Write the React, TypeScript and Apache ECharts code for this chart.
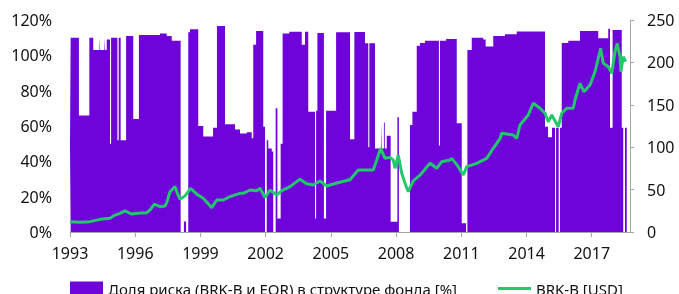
import React, { useEffect, useRef } from "react";
import * as echarts from "echarts";

const riskName = "Доля риска (BRK-B и EQR) в структуре фонда [%]";
const priceName = "BRK-B [USD]";

const yearTicks = [1993, 1996, 1999, 2002, 2005, 2008, 2011, 2014, 2017];

const riskYears = [1993.00,1993.03,1993.41,1993.89,1994.07,1994.35,1994.38,1994.58,1994.61,1994.69,1994.84,1994.89,1995.18,1995.24,1995.33,1995.58,1995.91,1996.17,1997.14,1997.45,1997.68,1998.09,1998.24,1998.34,1998.44,1998.52,1998.90,1999.13,1999.58,1999.76,2000.13,2000.59,2000.82,2001.13,2001.36,2001.43,2001.56,2001.89,2001.97,2002.05,2002.12,2002.28,2002.35,2002.46,2002.54,2002.69,2002.78,2003.09,2003.66,2003.81,2003.96,2004.27,2004.32,2004.38,2004.68,2004.78,2005.24,2005.88,2006.08,2006.57,2006.72,2006.77,2007.03,2007.31,2007.34,2007.44,2007.48,2007.57,2007.75,2008.06,2008.13,2008.64,2008.75,2008.95,2009.10,2009.33,2009.97,2010.02,2010.30,2010.79,2011.02,2011.22,2011.28,2011.48,2012.01,2012.12,2012.47,2013.01,2013.55,2014.85,2014.99,2015.17,2015.31,2015.36,2015.48,2015.54,2015.62,2015.92,2016.46,2017.30,2017.76,2017.84,2017.96,2018.38,2018.45,2018.53,2018.61];
const riskShare = [49,110,66,110,103,110,103,110,103,109,50,110,52,110,52,111,64,111.5,112.3,111,108.3,0,6,0,113,114.7,60,54,59,116.6,61,58,55.8,56.5,53,106,113.8,59.6,0,52,47.3,45.5,0,70,7.7,50,112.4,113.4,106,113.4,68,7.7,68.6,112.7,7.7,68.6,113,52.5,113.2,106.8,48,106.8,47.3,62,47.3,62,47.3,54.5,5.8,65,0,60.5,68,105.4,107,108.3,49,108.3,109.2,61.5,5,0,103,110,109,105,111,112,113.5,59.6,53.6,59,0,59,0,59,107,108.3,113.8,109.6,115,59,114.3,59,0,59,59];

const priceYears = [1993.00,1993.46,1993.92,1994.38,1994.84,1994.99,1995.30,1995.53,1995.84,1996.22,1996.53,1996.68,1996.88,1997.14,1997.37,1997.45,1997.60,1997.83,1997.94,1998.06,1998.29,1998.55,1998.83,1999.13,1999.52,1999.75,2000.05,2000.36,2000.82,2000.97,2001.28,2001.59,2001.74,2001.97,2002.20,2002.51,2002.74,2003.12,2003.58,2003.89,2004.19,2004.50,2004.81,2005.27,2005.88,2006.26,2006.65,2006.95,2007.11,2007.29,2007.49,2007.72,2007.87,2007.95,2008.10,2008.26,2008.41,2008.56,2008.79,2009.10,2009.56,2009.87,2010.10,2010.48,2010.56,2010.86,2011.09,2011.25,2011.71,2011.86,2012.17,2012.47,2012.78,2012.86,2013.39,2013.55,2013.70,2014.08,2014.31,2014.62,2014.85,2015.00,2015.16,2015.46,2015.62,2015.85,2016.15,2016.23,2016.46,2016.64,2016.92,2017.15,2017.30,2017.41,2017.53,2017.76,2017.92,2018.07,2018.17,2018.30,2018.34,2018.45,2018.56];
const priceUsd = [12.2,11.5,12.2,14.9,16.1,18.9,22,24.8,21.2,22.5,22.8,25.9,33,29.9,30.7,34.6,47.5,53.5,45.6,38.5,42.6,51.5,44.6,39.7,28.7,37.7,37.7,41.7,45.6,45.6,49.5,48.7,51.5,40.7,49.5,43.6,48.7,53.5,62.3,57,55.4,60.1,54.2,57.8,61.7,73.1,73.1,73.1,84.9,98.7,86.9,88,84.9,75.1,90.8,69.2,57.4,47.5,60.3,67,81,75.1,82.9,84.9,86.9,77,67.2,77,81,82.9,86.9,98.7,110,116.4,114.4,110.5,126.2,138,151.8,145.9,140,130,138,124.2,140,145.9,145.9,155.7,175.4,165.4,173.3,189,204.8,216.6,198.9,194.9,187.1,212.6,222.5,206.7,189,206.7,200.8];

const PURPLE = "#6f04da";
const GREEN = "#22c96a";
const AXIS_GREY = "#a6a6a6";
const FONT = "Noto Sans";

export default function App() {
  const ref = useRef<HTMLDivElement>(null);
  useEffect(() => {
    if (!ref.current) return;
    document.body.style.margin = "0";
    const chart = echarts.init(ref.current, null, { renderer: "svg" });
    const labelStyle = { color: "#111", fontFamily: FONT, fontSize: 16 };
    const legendText = { color: "#111", fontFamily: FONT, fontSize: 15 };
    chart.setOption({
      animation: false,
      grid: { left: 70, right: 49, top: 20, bottom: 62, containLabel: false },
      legend: [
        {
          data: [{ name: riskName, icon: "rect" }],
          left: 70,
          top: 281,
          padding: 0,
          itemWidth: 33,
          itemHeight: 14,
          itemGap: 4,
          textStyle: legendText,
        },
        {
          data: [{ name: priceName, icon: "rect" }],
          left: 498,
          top: 281,
          padding: 0,
          itemWidth: 33,
          itemHeight: 3,
          textStyle: legendText,
        },
      ],
      xAxis: {
        type: "value",
        min: 1993,
        max: 2018.76,
        interval: 3,
        axisLine: { show: true, lineStyle: { color: AXIS_GREY, width: 1 } },
        axisTick: { show: true, length: 5, lineStyle: { color: AXIS_GREY }, customValues: yearTicks },
        axisLabel: {
          ...labelStyle,
          margin: 13,
          customValues: yearTicks,
          formatter: (v: number) => (yearTicks.includes(v) ? String(v) : ""),
        },
        splitLine: { show: false },
      },
      yAxis: [
        {
          type: "value",
          min: 0,
          max: 120,
          interval: 20,
          axisLine: { show: false },
          axisTick: { show: false },
          splitLine: { show: false },
          axisLabel: { ...labelStyle, margin: 18, formatter: "{value}%" },
        },
        {
          type: "value",
          position: "right",
          min: 0,
          max: 250,
          interval: 50,
          axisLine: { show: true, lineStyle: { color: AXIS_GREY, width: 1 } },
          axisTick: { show: true, length: 4, lineStyle: { color: AXIS_GREY } },
          splitLine: { show: false },
          axisLabel: { ...labelStyle, margin: 17 },
        },
      ],
      series: [
        {
          name: riskName,
          type: "line",
          step: "end",
          yAxisIndex: 0,
          symbol: "none",
          showSymbol: false,
          data: riskYears.map((y, i) => [y, riskShare[i]]),
          lineStyle: { width: 0, opacity: 0 },
          itemStyle: { color: PURPLE },
          areaStyle: { color: PURPLE, opacity: 1 },
          z: 1,
        },
        {
          name: priceName,
          type: "line",
          yAxisIndex: 1,
          symbol: "none",
          showSymbol: false,
          data: priceYears.map((y, i) => [y, priceUsd[i]]),
          lineStyle: { color: GREEN, width: 3 },
          itemStyle: { color: GREEN },
          z: 3,
        },
      ],
    });
    return () => chart.dispose();
  }, []);
  return <div ref={ref} style={{ position: "fixed", left: 0, top: 0, width: 679, height: 294 }} />;
}
